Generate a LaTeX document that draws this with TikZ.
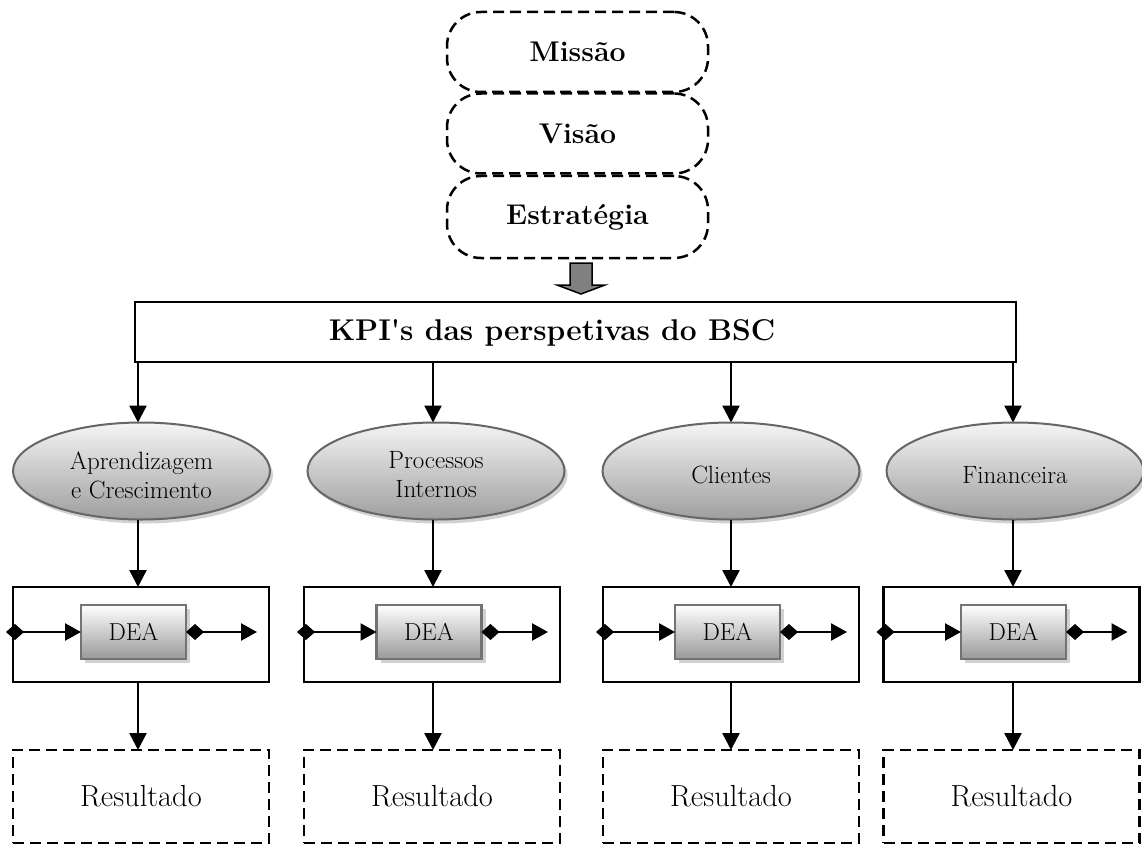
\documentclass[tikz,border=0pt]{standalone}
\usetikzlibrary{arrows.meta,shadows,shapes.geometric}
\begin{document}
\begin{tikzpicture}[x=1pt,y=-1pt,
  every node/.style={inner sep=0pt, outer sep=0pt},
  stage/.style={draw, dash pattern=on 11pt off 6pt, line width=2.5pt,
    rounded corners=34pt, minimum width=261pt, minimum height=80pt,
    font=\fontsize{28.5}{32}\selectfont\bfseries},
  kpibox/.style={draw, line width=2.5pt, minimum width=881pt, minimum height=60pt},
  persp/.style={ellipse, draw=black!60, line width=2pt, minimum width=257pt,
    minimum height=97pt, top color=black!4, bottom color=black!38,
    drop shadow={shadow xshift=3pt, shadow yshift=-4pt, fill=black!30, opacity=0.6}},
  persptext/.style={align=center, font=\fontsize{25}{29}\selectfont},
  frame/.style={draw, line width=2.5pt, minimum width=256pt, minimum height=95pt},
  dea/.style={draw=black!55, line width=2.5pt, minimum width=105pt, minimum height=54pt,
    top color=white, bottom color=black!40,
    drop shadow={shadow xshift=4pt, shadow yshift=-4pt, fill=black!30, opacity=0.6},
    font=\fontsize{24.5}{28}\selectfont},
  result/.style={draw, dash pattern=on 11pt off 6pt, line width=2.5pt,
    minimum width=256pt, minimum height=93pt, font=\fontsize{30.5}{33}\selectfont},
  arr/.style={line width=2.5pt, -{Triangle[length=17pt,width=17pt]}},
  dia/.style={line width=2.5pt, {Diamond[length=18pt,width=16pt]}-{Triangle[length=16pt,width=17pt]}}
]
\useasboundingbox (0,0) rectangle (1142,845);

% mission / vision / strategy stack
\node[stage] (mis) at (577.5,52) {Missão};
\node[stage] (vis) at (577.5,133.5) {Visão};
\node[stage, minimum height=82pt] (est) at (577.5,217) {Estratégia};

% block arrow down to the KPI bar
\draw[fill=black!50, line width=1.5pt, line join=miter]
  (570,263) -- (592,263) -- (592,285) -- (605,285) -- (581,294)
  -- (557,285) -- (570,285) -- cycle;

% KPI bar
\node[kpibox] (kpi) at (575.5,332) {};
\node[font=\fontsize{30}{34}\selectfont\bfseries] (kpitext) at (552,333)
  {KPI\textquotesingle s das perspetivas do BSC};

% the four perspectives
\foreach \i/\ax/\ex/\bx/\dx/\txt in {
  1/138/141.5/141/133.5/{Aprendizagem\\e Crescimento},
  2/433/436/432/429/{Processos\\Internos},
  3/731/731/731/727.5/{Clientes},
  4/1013/1015/1011.5/1013.5/{Financeira}}
{
  \coordinate (a\i) at (\ax,0);
  \node[persp] (e\i) at (\ex,471) {};
  \node[persptext] (t\i) at (\ex,475) {\txt};
  \node[frame] (o\i) at (\bx,634.5) {};
  \node[dea] (d\i) at (\dx,632) {DEA};
  \node[result] (r\i) at (\bx,796.5) {Resultado};
  \draw[arr] (kpi.south -| a\i) -- (e\i.north -| a\i);
  \draw[arr] (e\i.south -| a\i) -- (o\i.north -| a\i);
  \draw[arr] (o\i.south -| a\i) -- (r\i.north -| a\i);
  \draw[dia, shorten <=-7pt] (o\i.west |- d\i) -- (d\i.west);
  \draw[dia, shorten >=12pt] (d\i.east) -- (o\i.east |- d\i);
}
\end{tikzpicture}
\end{document}
